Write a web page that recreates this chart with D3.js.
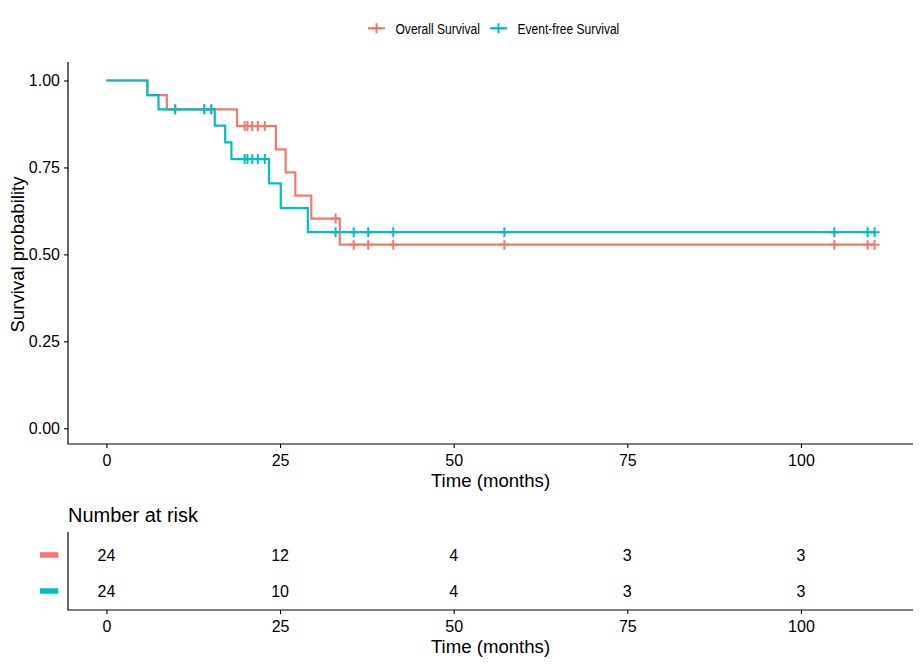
<!DOCTYPE html>
<html><head><meta charset="utf-8">
<script src="https://cdn.jsdelivr.net/npm/d3@7"></script>
<style>
body{margin:0;background:#fff}
text{font-family:"Liberation Sans",Arial,sans-serif;fill:#000}
</style>
</head><body><svg id="c" width="921" height="664"></svg>
<script>
// ---- data ----
const seriesNames = ["Overall Survival", "Event-free Survival"];
const seriesColors = ["#F8766D", "#00BFC4"];

const osEventTimes = [0, 5.9, 8.7, 18.8, 24.4, 25.8, 27.2, 29.5, 33.6];
const osSurv       = [1, 0.958, 0.917, 0.869, 0.802, 0.736, 0.669, 0.603, 0.528];
const osCensorTimes = [9.9, 14.1, 15.1, 19.9, 20.3, 21.0, 21.8, 22.8, 33.0, 35.6, 37.7, 41.3, 57.3, 104.8, 109.6, 110.6];

const efsEventTimes = [0, 5.9, 7.5, 15.6, 17.1, 18.0, 23.4, 25.1, 29.0];
const efsSurv       = [1, 0.958, 0.917, 0.870, 0.822, 0.774, 0.704, 0.633, 0.564];
const efsCensorTimes = [9.9, 14.1, 15.1, 19.9, 20.3, 21.0, 21.8, 22.8, 33.0, 35.6, 37.7, 41.3, 57.3, 104.8, 109.6, 110.6];

const lastTime = 110.6;
const riskTimes = [0, 25, 50, 75, 100];
const osRisk  = [24, 12, 4, 3, 3];
const efsRisk = [24, 10, 4, 3, 3];
const xTicks = [0, 25, 50, 75, 100];
const yTicks = [0, 0.25, 0.5, 0.75, 1];
const xTitle = "Time (months)";
const yTitle = "Survival probability";
const tableTitle = "Number at risk";

// ---- layout ----
const svg = d3.select("#c");
const P = {l: 68, r: 913, t: 62, b: 444};
const T = {t: 532, b: 610};
const x = d3.scaleLinear().domain([-0.05 * lastTime, 1.05 * lastTime]).range([P.l, P.r]);
const y = d3.scaleLinear().domain([0, 1]).range([428.3, 80.5]);

const series = [
  {name: seriesNames[0], color: seriesColors[0], times: osEventTimes, surv: osSurv, cens: osCensorTimes, risk: osRisk},
  {name: seriesNames[1], color: seriesColors[1], times: efsEventTimes, surv: efsSurv, cens: efsCensorTimes, risk: efsRisk}
];
function survAt(s, t) { return s.surv[d3.bisectRight(s.times, t) - 1]; }
const crossPath = "M-5,0H5M0,-5V5";

// ---- main axes ----
const gx = svg.append("g").attr("transform", `translate(0,${P.b})`)
  .call(d3.axisBottom(x).tickValues(xTicks).tickSize(4).tickPadding(6.6).tickFormat(d3.format("d")));
gx.select(".domain").remove();
gx.selectAll("text").style("font-size", "16px").attr("fill", "#000");
gx.selectAll("line").attr("stroke", "#000").attr("stroke-width", 1.1);

const gy = svg.append("g").attr("transform", `translate(${P.l},0)`)
  .call(d3.axisLeft(y).tickValues(yTicks).tickSize(4).tickPadding(4).tickFormat(d3.format(".2f")));
gy.select(".domain").remove();
gy.selectAll("text").style("font-size", "16px").attr("fill", "#000");
gy.selectAll("line").attr("stroke", "#000").attr("stroke-width", 1.1);

svg.append("path").attr("d", `M${P.l},${P.t}V${P.b}H${P.r}`)
  .attr("fill", "none").attr("stroke", "#000").attr("stroke-width", 1.2);

svg.append("text").attr("x", (P.l + P.r) / 2).attr("y", 487).attr("text-anchor", "middle")
  .style("font-size", "18.6px").text(xTitle);
svg.append("text").attr("transform", `translate(23.5,${(P.t + P.b) / 2 + 1.5}) rotate(-90)`)
  .attr("text-anchor", "middle").style("font-size", "18.6px").text(yTitle);

// ---- curves ----
const line = d3.line().x(d => x(d[0])).y(d => y(d[1])).curve(d3.curveStepAfter);
series.forEach(s => {
  const pts = s.times.map((t, i) => [t, s.surv[i]]);
  pts.push([lastTime, s.surv[s.surv.length - 1]]);
  svg.append("path").datum(pts).attr("d", line)
    .attr("fill", "none").attr("stroke", s.color).attr("stroke-width", 2.2);
});
series.forEach(s => {
  svg.append("g").selectAll("path").data(s.cens).join("path")
    .attr("transform", t => `translate(${x(t)},${y(survAt(s, t))})`)
    .attr("d", crossPath).attr("stroke", s.color).attr("stroke-width", 2).attr("fill", "none");
});

// ---- legend ----
const legendX = [368, 490];
const lg = svg.append("g");
series.forEach((s, i) => {
  const g = lg.append("g").attr("transform", `translate(${legendX[i]},28.3)`);
  g.append("line").attr("x1", 0).attr("x2", 17).attr("y1", 0).attr("y2", 0)
    .attr("stroke", s.color).attr("stroke-width", 2.2);
  g.append("path").attr("transform", "translate(8.5,0)").attr("d", crossPath)
    .attr("stroke", s.color).attr("stroke-width", 2);
  g.append("text").attr("transform", "translate(27.5,5.2) scale(0.82,1)")
    .style("font-size", "14.7px").text(s.name);
});

// ---- risk table ----
svg.append("text").attr("x", 68).attr("y", 522).style("font-size", "20px").text(tableTitle);
const ry = d3.scalePoint().domain(seriesNames).range([555, 591]);
series.forEach(s => {
  svg.append("rect").attr("x", 40).attr("y", ry(s.name) - 2.75).attr("width", 18.3).attr("height", 5.5)
    .attr("fill", s.color);
  svg.append("g").selectAll("text").data(riskTimes).join("text")
    .attr("x", t => x(t)).attr("y", ry(s.name)).attr("dy", "0.35em").attr("text-anchor", "middle")
    .style("font-size", "16px").text((t, i) => s.risk[i]);
});
const tx = svg.append("g").attr("transform", `translate(0,${T.b})`)
  .call(d3.axisBottom(x).tickValues(xTicks).tickSize(4).tickPadding(6.6).tickFormat(d3.format("d")));
tx.select(".domain").remove();
tx.selectAll("text").style("font-size", "16px").attr("fill", "#000");
tx.selectAll("line").attr("stroke", "#000").attr("stroke-width", 1.1);
svg.append("path").attr("d", `M${P.l},${T.t}V${T.b}H${P.r}`)
  .attr("fill", "none").attr("stroke", "#000").attr("stroke-width", 1.2);
svg.append("text").attr("x", (P.l + P.r) / 2).attr("y", 652.7).attr("text-anchor", "middle")
  .style("font-size", "18.6px").text(xTitle);
</script>
</body></html>
